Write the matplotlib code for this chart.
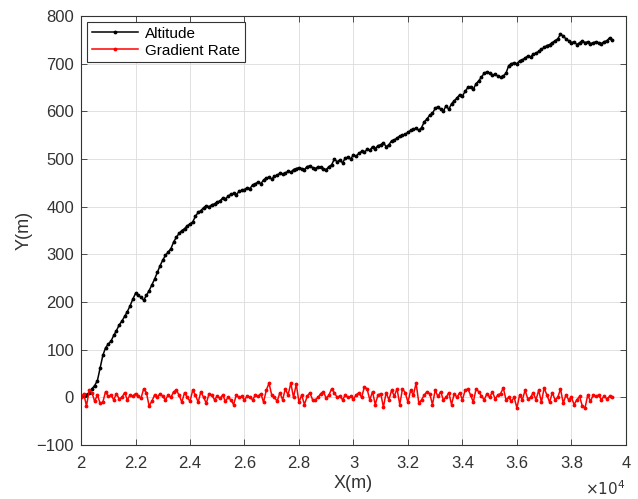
import numpy as np
import matplotlib
matplotlib.use("Agg")
import matplotlib.pyplot as plt
from matplotlib.ticker import FuncFormatter, MultipleLocator

plt.rcParams['font.family'] = ['Liberation Sans', 'DejaVu Sans']

# sample positions along the route (m), one every 100 m
x = np.arange(20000, 39501, 100)

# altitude, one row per 1000 m
altitude = [
    0, 3, 6, 10, 18, 25, 35, 62, 88, 104,
    112, 118, 130, 140, 152, 160, 170, 180, 192, 206,
    218, 214, 210, 204, 214, 224, 236, 248, 262, 276,
    288, 298, 305, 312, 326, 336, 344, 350, 354, 360,
    364, 368, 380, 388, 392, 398, 402, 400, 404, 406,
    410, 412, 418, 416, 422, 426, 428, 425, 432, 434,
    436, 440, 438, 446, 448, 452, 448, 456, 460, 462,
    458, 464, 466, 470, 468, 471, 474, 472, 478, 480,
    482, 480, 478, 484, 486, 482, 480, 484, 483, 480,
    478, 484, 488, 500, 494, 498, 492, 502, 504, 500,
    509, 506, 512, 516, 514, 520, 518, 526, 522, 528,
    530, 534, 526, 530, 538, 540, 544, 548, 550, 552,
    556, 560, 562, 565, 560, 566, 578, 584, 592, 596,
    606, 610, 604, 600, 612, 604, 616, 622, 628, 635,
    632, 642, 650, 652, 646, 658, 664, 672, 680, 683,
    680, 676, 678, 674, 672, 674, 680, 696, 700, 702,
    700, 706, 708, 712, 716, 714, 720, 722, 726, 730,
    734, 738, 740, 744, 748, 752, 762, 758, 752, 748,
    744, 746, 740, 744, 748, 744, 746, 742, 744, 746,
    744, 742, 746, 748, 754, 750,
]

# gradient rate, same positions
gradient = [
    0, 8, -18, 15, 10, -8, 5, -12, -10, 12,
    2, 5, -5, 8, -3, 0, 10, -5, 5, 3,
    8, 2, -2, 18, 10, -18, -8, 5, 0, 8,
    2, -5, 5, 0, 12, 15, 5, -10, 10, 0,
    -8, 15, 5, -10, 12, 0, -12, 8, 5, -5,
    3, -2, 5, -8, 0, -5, -15, 5, 0, 2,
    -5, 3, 0, -5, 5, 2, 8, -10, 15, 30,
    5, 0, -8, 10, -5, 18, 5, 30, 0, 28,
    -10, 5, -15, 2, 10, -5, -5, 0, 8, 12,
    -2, 5, 18, 10, 0, 3, -5, 5, 0, 2,
    -3, 5, 10, 0, 22, 18, -5, 12, -15, 5,
    8, -20, 10, -5, 15, 3, 18, -15, 18, 10,
    -10, 15, 5, 30, -12, -5, 5, 12, 8, -15,
    15, 2, 12, -5, 0, 10, -15, 8, 0, 10,
    -5, 15, 18, 5, -10, 18, 12, 3, -5, 8,
    0, 12, -3, 5, 8, 20, -5, 0, -8, 0,
    -22, 5, -5, 15, -3, 0, 10, -5, 15, -10,
    20, 5, -10, 10, -5, 0, 18, -12, 5, -5,
    0, -15, -5, 2, -18, -22, 5, -8, 5, 2,
    5, -5, 3, -3, 2, 0,
]

txt = '#333333'
fig = plt.figure(figsize=(6.38, 4.99), dpi=100)
ax = fig.add_axes([0.127, 0.108, 0.854, 0.860])

ax.plot(x, altitude, color='black', lw=1.1, marker='.', ms=3.5, label='Altitude')
ax.plot(x, gradient, color='red', lw=1.1, marker='.', ms=3.5, label='Gradient Rate')

ax.set_xlim(20000, 40000)
ax.set_ylim(-100, 800)
ax.xaxis.set_major_locator(MultipleLocator(2000))
ax.yaxis.set_major_locator(MultipleLocator(100))
ax.xaxis.set_major_formatter(FuncFormatter(lambda v, p: '%g' % (v / 1e4)))

ax.grid(True, color='#dcdcdc', lw=0.6)
ax.set_axisbelow(True)
ax.tick_params(direction='in', top=True, right=True, labelsize=12,
               colors=txt, length=4, width=0.6)
ax.tick_params(axis='x', pad=7.5)
ax.tick_params(axis='y', pad=5)
for s in ax.spines.values():
    s.set_color(txt)
    s.set_linewidth(0.8)

ax.set_xlabel('X(m)', fontsize=13, color=txt, labelpad=3)
ax.set_ylabel('Y(m)', fontsize=13, color=txt, labelpad=3)
ax.text(1.0, -0.08, r'$\times10^4$', transform=ax.transAxes, ha='right',
        va='top', fontsize=11, color=txt)

leg = ax.legend(loc='upper left', fontsize=11, frameon=True, fancybox=False,
                edgecolor=txt, framealpha=1, borderpad=0.3, handlelength=3.0,
                labelspacing=0.2, borderaxespad=0.4, handletextpad=0.5)
leg.get_frame().set_linewidth(0.8)

fig.savefig('out.png', dpi=100)
